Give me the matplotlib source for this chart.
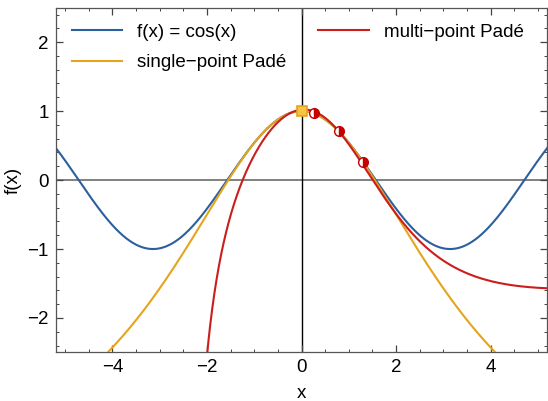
import numpy as np
import matplotlib
matplotlib.use('Agg')
import matplotlib.pyplot as plt

plt.rcParams['font.family'] = ['Liberation Sans', 'DejaVu Sans']
plt.rcParams['font.size'] = 13.5

# axis ranges
x_range = [-5.2, 5.2]
y_range = [-2.5, 2.5]

# single-point Pade [2/2] of cos about x = 0 (coefficients in powers of x)
pade_num = [1.0, 0.0, -5.0 / 12.0]
pade_den = [1.0, 0.0, 1.0 / 12.0]
expansion_x = [0.0]
expansion_y = [1.0]

# multi-point Pade: interpolation nodes (half-filled markers)
node_x = [0.262, 0.785, 1.309]
node_y = [0.966, 0.707, 0.259]

# multi-point Pade: points
red_x = [-2.0, -1.93, -1.84, -1.72, -1.53, -1.27, -1.10, -0.68,
         1.44, 2.84, 3.54, 4.25, 5.19]
red_y = [-2.5, -2.12, -1.64, -1.15, -0.67, 0.0, 0.29, 0.68,
         0.055, -1.12, -1.35, -1.50, -1.57]

blue = '#2c5f9e'
orange = '#e5a41c'
red = '#cc1d1d'


# rational [3/3] through the read points (linearised least squares)
def rational_fit(xs, ys, m=3, n=3):
    xs, ys = np.asarray(xs), np.asarray(ys)
    A = np.column_stack([xs**k for k in range(m + 1)] +
                        [-ys * xs**k for k in range(1, n + 1)])
    c = np.linalg.lstsq(A, ys, rcond=None)[0]
    num, den = c[:m + 1], np.concatenate([[1.0], c[m + 1:]])
    return lambda x: np.polyval(num[::-1], x) / np.polyval(den[::-1], x)


multi = rational_fit(red_x + node_x, red_y + node_y)

x = np.linspace(x_range[0], x_range[1], 1500)
x_red = np.linspace(-2.1, x_range[1], 1500)

fig, ax = plt.subplots(figsize=(5.48, 4.01), dpi=100)
fig.subplots_adjust(left=0.1015, right=0.999, top=0.981, bottom=0.121)

# reference axes lines
ax.axhline(0, color='#808080', lw=1.4, zorder=1)
ax.axvline(0, color='black', lw=1.0, zorder=1)

ax.plot(x, np.cos(x), color=blue, lw=1.5, label='f(x) = cos(x)', zorder=2)
ax.plot(x, np.polyval(pade_num[::-1], x) / np.polyval(pade_den[::-1], x),
        color=orange, lw=1.5, label='single\u2212point Padé', zorder=3)
ax.plot(x_red, multi(x_red), color=red, lw=1.5, label='multi\u2212point Padé', zorder=4)

# markers
ax.plot(expansion_x, expansion_y, 's', ms=7, mfc='#f6c445', mec=orange, mew=1.2, zorder=5)
ax.plot(node_x, node_y, 'o', ms=7, fillstyle='right', mfc='#c40000', mfcalt='white',
        mec='#c40000', mew=1.0, zorder=6)

ax.set_xlim(x_range)
ax.set_ylim(y_range)
ax.set_xticks([-4, -2, 0, 2, 4])
ax.set_xticks(np.arange(-5.0, 5.01, 0.5), minor=True)
ax.set_yticks([-2, -1, 0, 1, 2])
ax.set_yticks(np.arange(-2.4, 2.41, 0.2), minor=True)
ax.tick_params(which='both', direction='in', top=True, right=True, color='#444444')
ax.tick_params(which='major', length=5, width=0.9, pad=5)
ax.tick_params(which='minor', length=2.5, width=0.7)
for s in ax.spines.values():
    s.set_color('#555555')
    s.set_linewidth(0.9)

ax.set_xlabel('x', labelpad=6)
ax.set_ylabel('f(x)', labelpad=4)

ax.legend(loc='upper left', ncol=2, frameon=False, handlelength=2.7,
          handletextpad=0.8, columnspacing=1.7, labelspacing=0.72,
          borderaxespad=0.35, borderpad=0.5)

fig.savefig('out.png')
